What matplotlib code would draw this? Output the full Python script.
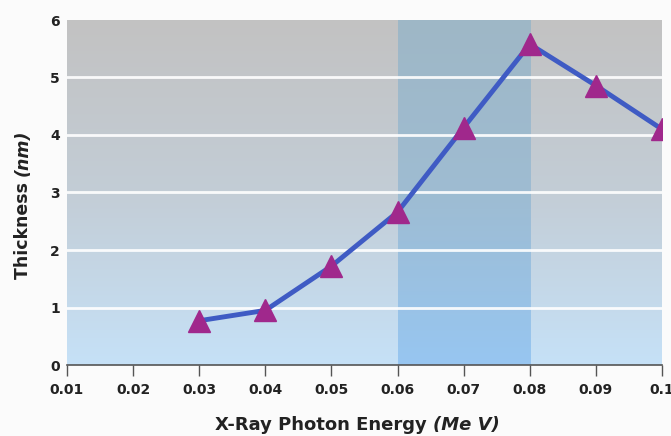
import numpy as np
import matplotlib
matplotlib.use("Agg")
import matplotlib.pyplot as plt
from matplotlib.colors import LinearSegmentedColormap

# data
energy = [0.03, 0.04, 0.05, 0.06, 0.07, 0.08, 0.09, 0.10]
thickness = [0.77, 0.95, 1.72, 2.66, 4.13, 5.58, 4.86, 4.10]
x_ticks = [0.01, 0.02, 0.03, 0.04, 0.05, 0.06, 0.07, 0.08, 0.09, 0.1]
x_tick_labels = ["0.01", "0.02", "0.03", "0.04", "0.05", "0.06", "0.07", "0.08", "0.09", "0.1"]
y_ticks = [0, 1, 2, 3, 4, 5, 6]
band = (0.06, 0.08)

plt.rcParams["font.family"] = ["DejaVu Sans"]

fig = plt.figure(figsize=(6.71, 4.36), dpi=100)
fig.patch.set_facecolor("#fbfbfb")
ax = fig.add_axes([67 / 671, 71 / 436, 595 / 671, 345 / 436])

# background gradient (grey at top, light blue at bottom)
bg = LinearSegmentedColormap.from_list("bg", ["#c6e1f7", "#c3cdd6", "#c2c2c2"])
band_cm = LinearSegmentedColormap.from_list("band", ["#97c6f1", "#9ebcd2", "#9fb7c6"])
grad = np.linspace(0, 1, 256).reshape(-1, 1)
ax.imshow(grad, cmap=bg, origin="lower", aspect="auto",
          extent=[0.01, 0.1, 0, 6], zorder=0)
ax.imshow(grad, cmap=band_cm, origin="lower", aspect="auto",
          extent=[band[0], band[1], 0, 6], zorder=0.5)

for y in y_ticks[1:-1]:
    ax.axhline(y, color="white", lw=2, alpha=0.9, zorder=1)

ax.plot(energy, thickness, color="#3f5bc4", lw=3.5, zorder=2)
ax.plot(energy, thickness, ls="none", marker="^", ms=16, color="#a0288c",
        markeredgecolor="#a0288c", zorder=3)

ax.set_xlim(0.01, 0.1)
ax.set_ylim(0, 6)
ax.set_xticks(x_ticks)
ax.set_xticklabels(x_tick_labels)
ax.set_yticks(y_ticks)
for s in ["top", "right", "left"]:
    ax.spines[s].set_visible(False)
ax.spines["bottom"].set_color("#555555")
ax.spines["bottom"].set_linewidth(1.2)
ax.tick_params(axis="x", length=8, width=1, color="#555555", pad=5)
ax.tick_params(axis="y", length=0, pad=5)
for lab in ax.get_xticklabels() + ax.get_yticklabels():
    lab.set_fontweight("bold")
    lab.set_fontsize(10)
    lab.set_color("#222222")

# axis titles with italic units
t1 = fig.text(0.32, 0.014, "X-Ray Photon Energy ", fontsize=13, fontweight="bold",
              color="#222222", ha="left", va="baseline")
ax.annotate("(Me V)", xy=(1, 0), xycoords=t1, fontsize=13, fontweight="bold",
            fontstyle="italic", color="#222222", ha="left", va="bottom")
t2 = fig.text(0.034, 0.36, "Thickness ", fontsize=12.5, fontweight="bold",
              color="#222222", rotation=90, ha="center", va="bottom")
ax.annotate("(nm)", xy=(0.5, 1), xycoords=t2, fontsize=12.5, fontweight="bold",
            fontstyle="italic", color="#222222", rotation=90, ha="center", va="bottom")

fig.savefig("out.png", dpi=100, facecolor=fig.get_facecolor())
